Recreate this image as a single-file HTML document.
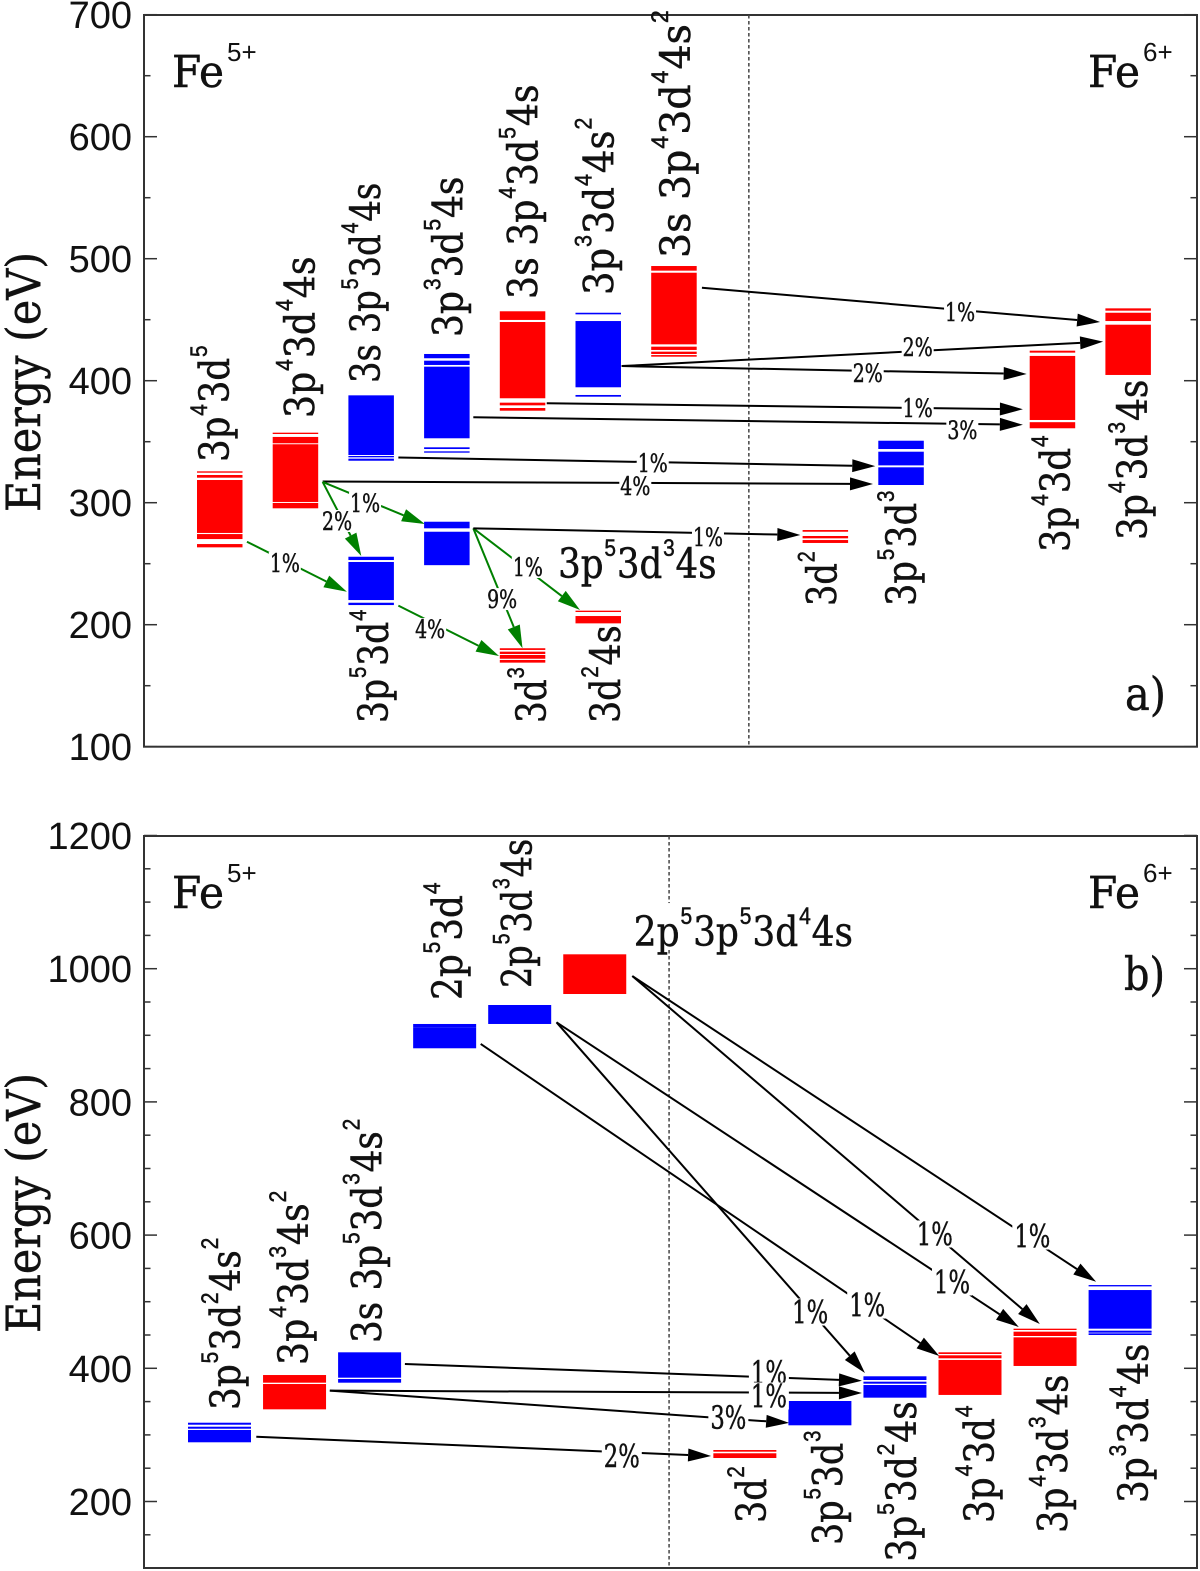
<!DOCTYPE html>
<html lang="en">
<head>
<meta charset="utf-8">
<title>Fe5+ and Fe6+ configuration energies</title>
<style>
html,body{margin:0;padding:0;background:#fff;}
svg{display:block;}
text{fill:#111;}
</style>
</head>
<body>
<svg id="chart" xmlns="http://www.w3.org/2000/svg" width="1200" height="1571" viewBox="0 0 1200 1571">
  <rect x="0" y="0" width="1200" height="1571" fill="#fff"/>
</svg>
<script>
/* ---------- Panel a data ---------- */
const aTickValues = [100, 200, 300, 400, 500, 600, 700];
const aMinorTickValues = [150, 250, 350, 450, 550, 650];
const aLevelNames = ['3p4-3d5','3p4-3d4-4s','3s-3p5-3d4-4s','3p3-3d5-4s','3s-3p4-3d5-4s','3p3-3d4-4s2','3s-3p4-3d4-4s2','3p5-3d4','3p5-3d3-4s','3d3','3d2-4s','3d2','3p5-3d3','3p4-3d4','3p4-3d3-4s'];
const aLevelColumns = [0,1,2,3,4,5,6,2,3,4,5,8,9,11,12];
const aLevelParity = ['even','even','odd','odd','even','odd','even','odd','odd','even','even','even','odd','even','even'];
const aLevelBands = [
  [[325.7,324.6],[322.7,320.5],[318.6,275.2],[274.3,270.2],[266.1,263.4]],
  [[357.4,356.3],[353.9,348.7],[347.9,300.6],[299.8,295.4]],
  [[388.0,339.1],[338.3,337.2],[336.1,334.4]],
  [[421.9,418.4],[416.4,412.9],[411.5,352.8],[345.4,344.0],[342.1,341.0]],
  [[456.9,449.8],[448.1,385.6],[382.0,379.8],[377.6,375.4]],
  [[455.7,454.4],[448.9,394.6],[388.3,386.9]],
  [[494.0,490.2],[488.5,429.8],[427.9,425.2],[423.8,421.9],[421.0,419.7]],
  [[255.7,253.0],[251.4,220.2],[218.0,216.1]],
  [[284.4,279.0],[276.2,248.8]],
  [[180.7,179.3],[177.9,176.0],[175.2,172.1],[171.1,168.9]],
  [[211.5,210.4],[207.1,201.1]],
  [[277.6,276.2],[272.7,270.8],[269.4,267.0]],
  [[350.8,344.0],[341.8,330.6],[329.0,314.5]],
  [[424.6,423.0],[420.3,367.8],[366.0,361.0]],
  [[459.3,457.4],[455.7,448.9],[445.9,404.7]]
];
const aArrowKind = ['inter','inter','inter','inter','inter','inter','inter','intra','intra','intra','intra','intra','intra','inter'];
const aArrowFromCol = [6.67,5.61,5.61,4.62,3.65,2.66,1.66,1.66,1.66,0.66,2.66,3.65,3.65,3.65];
const aArrowFromE = [476.2,412,412,381.5,370,337,317.4,317,317,268,215.6,279,279,279];
const aArrowToCol = [11.93,11.97,10.96,10.91,10.91,8.96,8.93,3.01,2.17,1.98,3.99,4.30,5.06,7.97];
const aArrowToE = [448.1,432,405.5,376.6,363.9,330,315.3,282.5,256.3,227,174.3,180.7,212,273.5];
const aArrowPct = ['1%','2%','2%','1%','3%','1%','4%','1%','2%','1%','4%','9%','1%','1%'];
const aPctCol = [10.08,9.52,8.86,9.52,10.11,6.02,5.79,2.22,1.85,1.16,3.08,4.03,4.37,6.75];
const aPctE = [456.3,427.6,406.3,377.6,359.6,332.5,313.7,299.8,285,250.6,196.5,221,247.3,271.9];
const aLabelText = ['3p^4 3d^5','3p^4 3d^4 4s','3s 3p^5 3d^4 4s','3p^3 3d^5 4s','3s 3p^4 3d^5 4s','3p^3 3d^4 4s^2','3s 3p^4 3d^4 4s^2','3p^5 3d^4','3d^3','3d^2 4s','3d^2','3p^5 3d^3','3p^4 3d^4','3p^4 3d^3 4s','3p^5 3d^3 4s'];
const aLabelCol = [0.42,1.55,2.42,3.51,4.50,5.50,6.51,2.52,4.61,5.59,8.45,9.50,11.53,12.55,4.77];
const aLabelE = [333.4,369.4,398.1,435.8,467,470.2,500.6,119.4,119.4,119.4,215.3,215.3,259.6,269.4,238.3];
const aLabelLength = [114,158,197,157,211,173,243,111,55,96,54,113,114,157,155];
const aLabelHorizontal = [false,false,false,false,false,false,false,false,false,false,false,false,false,false,true];

/* ---------- Panel b data ---------- */
const bTickValues = [200, 400, 600, 800, 1000, 1200];
const bMinorTickValues = [150,250,300,350,450,500,550,650,700,750,850,900,950,1050,1100,1150];
const bLevelNames = ['3p5-3d2-4s2','3p4-3d3-4s2','3s-3p5-3d3-4s2','2p5-3d4','2p5-3d3-4s','2p5-3p5-3d4-4s','3d2','3p5-3d3','3p5-3d2-4s','3p4-3d4','3p4-3d3-4s','3p3-3d4-4s'];
const bLevelColumns = [0,1,2,3,4,5,7,8,9,10,11,12];
const bLevelParity = ['odd','even','odd','odd','odd','even','even','odd','odd','even','even','odd'];
const bLevelBands = [
  [[318.3,315.3],[312.3,309.3],[307.4,288.9]],
  [[389.9,378.4],[376.4,338.4]],
  [[424,385.9],[383.9,378.4]],
  [[917,912],[912,880.5]],
  [[945.5,917]],
  [[1021.6,962]],
  [[277.3,274.8],[272.4,265.3]],
  [[350.9,314.4]],
  [[388,382.4],[379.9,376.9],[374.9,355.9]],
  [[424,421.5],[419.5,415],[412.5,360]],
  [[459.5,457.5],[455,448.5],[446.5,403.5]],
  [[525,523],[517.5,459.5],[456.5,453.5],[452.5,450]]
];
const bArrowKind = ['inter','inter','inter','inter','inter','inter','inter','inter','inter'];
const bArrowFromCol = [5.92,5.92,4.91,4.91,3.90,2.89,1.89,1.89,0.91];
const bArrowFromE = [989,989,919.5,919.5,887,406.5,366.4,366.4,297.3];
const bArrowToCol = [12.10,11.35,11.07,9.02,10.01,8.98,8.98,8.01,6.97];
const bArrowToE = [530,466.5,462,393,418.5,381.4,363,318,268.3];
const bArrowPct = ['1%','1%','1%','1%','1%','1%','1%','3%','2%'];
const bPctCol = [11.25,9.95,10.18,8.29,9.05,7.74,7.74,7.20,5.78];
const bPctE = [598.6,601.7,529.6,484.5,495,393.4,358.4,325.8,268.3];
const bLabelText = ['3p^5 3d^2 4s^2','3p^4 3d^3 4s^2','3s 3p^5 3d^3 4s^2','2p^5 3d^4','2p^5 3d^3 4s','3d^2','3p^5 3d^3','3p^5 3d^2 4s','3p^4 3d^4','3p^4 3d^3 4s','3p^3 3d^4 4s','2p^5 3p^5 3d^4 4s'];
const bLabelCol = [0.69,1.60,2.58,3.65,4.58,7.70,8.72,9.70,10.74,11.72,12.79,5.94];
const bLabelE = [337.4,405,438,953,971,167.7,134.7,109.6,167.7,152.7,197.8,1034];
const bLabelLength = [168,170,220,115,146,56,112,157,115,155,156,214];
const bLabelHorizontal = [false,false,false,false,false,false,false,false,false,false,false,true];

/* ---------- Axis functions ---------- */
const NS = 'http://www.w3.org/2000/svg';
const svg = document.getElementById('chart');
const SERIF = '"DejaVu Serif","Liberation Serif",serif';
const SANS = '"Liberation Sans",sans-serif';
const COLORS = {even:'#ff0000', odd:'#0000ff', inter:'#000000', intra:'#008000'};
const WEIGHT = {stroke:'#111', 'stroke-width':0.5};

const panelA = {
  id:'a', left:144, right:1197, top:15, bottom:746.7,
  x:function(c){return 197 + 75.7*c;},
  y:function(e){return 502.7 - (e-300)*1.22;},
  boxWidth:45.5, dividerCol:7.29, pctSize:25, pctW:32, pctH:22, pctTextW:30
};
const panelB = {
  id:'b', left:144, right:1197, top:836, bottom:1568,
  x:function(c){return 188 + 75.05*c;},
  y:function(e){return 1368.3 - (e-400)*0.666;},
  boxWidth:63, dividerCol:6.41, pctSize:32, pctW:40, pctH:27, pctTextW:36
};

function mk(tag, parent, attrs){
  const el = document.createElementNS(NS, tag);
  for (const k in attrs) el.setAttribute(k, attrs[k]);
  parent.appendChild(el);
  return el;
}

function drawAxes(p, group, majors, minors){
  const frame = mk('rect', group, {x:p.left, y:p.top, width:p.right-p.left, height:p.bottom-p.top, fill:'none', stroke:'#333', 'stroke-width':2});
  
  
  majors.forEach(function(v){
    const yy = p.y(v);
    const tl = mk('line', group, {x1:p.left, x2:p.left+13, y1:yy, y2:yy, stroke:'#333', 'stroke-width':1.5});
    
    
    const tr = mk('line', group, {x1:p.right, x2:p.right-13, y1:yy, y2:yy, stroke:'#333', 'stroke-width':1.5});
    
    
    const t = mk('text', group, {x:132, y:yy+13.5, 'text-anchor':'end', 'font-family':SANS, 'font-size':38});
    
    
    t.textContent = String(v);
  });
  minors.forEach(function(v){
    const yy = p.y(v);
    if (yy > p.bottom || yy < p.top) return;
    const tl = mk('line', group, {x1:p.left, x2:p.left+6.5, y1:yy, y2:yy, stroke:'#333', 'stroke-width':1.5});
    
    
    const tr = mk('line', group, {x1:p.right, x2:p.right-6.5, y1:yy, y2:yy, stroke:'#333', 'stroke-width':1.5});
    
    
  });
  const dx = p.x(p.dividerCol);
  const div = mk('line', group, {x1:dx, x2:dx, y1:p.top, y2:p.bottom, stroke:'#444', 'stroke-width':1.5, 'stroke-dasharray':'3.5 2.5'});
  
  
}

function drawLevels(p, group, names, cols, parity, bands){
  names.forEach(function(name, i){
    const g = mk('g', group, {fill:COLORS[parity[i]]});
    
    
    bands[i].forEach(function(b){
      const y1 = p.y(b[0]), y2 = p.y(b[1]);
      const r = mk('rect', g, {x:p.x(cols[i]), y:y1, width:p.boxWidth, height:y2-y1});
      
      
    });
  });
}

function drawArrows(p, group, kinds, fc, fe, tc, te){
  kinds.forEach(function(kind, i){
    const x1 = p.x(fc[i]), y1 = p.y(fe[i]), x2 = p.x(tc[i]), y2 = p.y(te[i]);
    const L = Math.hypot(x2-x1, y2-y1);
    const ux = (x2-x1)/L, uy = (y2-y1)/L;
    const bx = x2-ux*23, by = y2-uy*23;
    const g = mk('g', group, {});
    
    
    const col = COLORS[kind];
    mk('line', g, {x1:x1, y1:y1, x2:bx, y2:by, stroke:col, 'stroke-width':2});
    const pts = [x2+','+y2, (bx-uy*6.5)+','+(by+ux*6.5), (bx+uy*6.5)+','+(by-ux*6.5)].join(' ');
    mk('polygon', g, {points:pts, fill:col});
  });
}

function drawPct(p, group, texts, cols, energies){
  texts.forEach(function(txt, i){
    const px = p.x(cols[i]), py = p.y(energies[i]);
    const bg = mk('rect', group, {x:px-p.pctW/2, y:py-p.pctH/2, width:p.pctW, height:p.pctH, fill:'#fff'});
    
    
    const t = mk('text', group, Object.assign({'font-family':SERIF, 'font-size':p.pctSize, 'text-anchor':'middle'}, WEIGHT));
    
    
    t.textContent = txt;
    const sx = p.pctTextW / t.getComputedTextLength();
    t.setAttribute('transform', 'translate('+px+','+(py+p.pctSize*0.36)+') scale('+sx+',1)');
  });
}

function drawConfigLabels(p, group, texts, cols, energies, lengths, horizontal){
  texts.forEach(function(txt, i){
    const t = mk('text', group, Object.assign({'font-family':SERIF, 'font-size':41}, WEIGHT));
    
    
    const parts = txt.split(/\^(\d)\s*/);
    parts.forEach(function(part, j){
      if (part === '') return;
      const s = mk('tspan', t, {});
      if (j % 2 === 1) {
        s.setAttribute('font-family', SANS);
        s.setAttribute('font-size', 24);
        s.setAttribute('dy', -22);
        s.setAttribute('dx', 1);
      } else if (j > 0) {
        s.setAttribute('dy', 22);
        s.setAttribute('dx', 1);
      }
      s.textContent = part;
    });
    const sx = lengths[i] / t.getComputedTextLength();
    const rot = horizontal[i] ? '' : ' rotate(-90)';
    t.setAttribute('transform', 'translate('+p.x(cols[i])+','+p.y(energies[i])+')'+rot+' scale('+sx+',1)');
  });
}

function drawStatic(p, group, feY, letter, letterX, letterY, titleStartY){
  const title = mk('text', group, Object.assign({'font-family':SERIF, 'font-size':47}, WEIGHT));
  
  
  title.textContent = 'Energy (eV)';
  title.setAttribute('transform', 'translate(40,'+titleStartY+') rotate(-90) scale('+(260/title.getComputedTextLength())+',1)');

  [['5+',172,'fe5-label'],['6+',1088,'fe6-label']].forEach(function(item){
    const fe = mk('text', group, Object.assign({'font-family':SERIF, 'font-size':44}, WEIGHT));
    
    
    fe.textContent = 'Fe';
    const s = 52 / fe.getComputedTextLength();
    fe.setAttribute('transform', 'translate('+item[1]+','+feY+') scale('+s+',1)');
    const sup = mk('text', group, {'font-family':SANS, 'font-size':26, x:item[1]+55, y:feY-26});
    
    
    sup.textContent = item[0];
  });

  const tag = mk('text', group, Object.assign({'font-family':SERIF, 'font-size':46}, WEIGHT));
  
  
  tag.textContent = letter;
  tag.setAttribute('transform', 'translate('+letterX+','+letterY+') scale('+(41/tag.getComputedTextLength())+',1)');
}

function drawPanel(p, majors, minors, names, cols, parity, bands, kinds, fc, fe, tc, te, pct, pc, pe, lt, lc, le, ll, lh, feY, letter, letterX, letterY, titleY){
  const g = mk('g', svg, {});
  
  
  drawAxes(p, g, majors, minors);
  const hz = lh.indexOf(true);
  if (hz >= 0) {
    const hx = p.x(lc[hz]), hy = p.y(le[hz]);
    const bg = mk('rect', g, {x:hx-2, y:hy-43, width:ll[hz]+4, height:45, fill:'#fff'});
    
    
  }
  drawArrows(p, g, kinds, fc, fe, tc, te);
  drawLevels(p, g, names, cols, parity, bands);
  drawPct(p, g, pct, pc, pe);
  drawConfigLabels(p, g, lt, lc, le, ll, lh);
  drawStatic(p, g, feY, letter, letterX, letterY, titleY);
}

drawPanel(panelA, aTickValues, aMinorTickValues, aLevelNames, aLevelColumns, aLevelParity, aLevelBands,
  aArrowKind, aArrowFromCol, aArrowFromE, aArrowToCol, aArrowToE, aArrowPct, aPctCol, aPctE,
  aLabelText, aLabelCol, aLabelE, aLabelLength, aLabelHorizontal, 87, 'a)', 1125, 710, 512);
drawPanel(panelB, bTickValues, bMinorTickValues, bLevelNames, bLevelColumns, bLevelParity, bLevelBands,
  bArrowKind, bArrowFromCol, bArrowFromE, bArrowToCol, bArrowToE, bArrowPct, bPctCol, bPctE,
  bLabelText, bLabelCol, bLabelE, bLabelLength, bLabelHorizontal, 908, 'b)', 1124, 990, 1333);
</script>
</body>
</html>
